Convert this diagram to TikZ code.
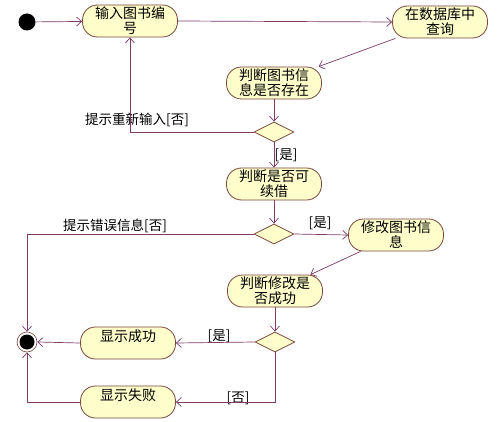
\documentclass[tikz,border=0pt]{standalone}
\usepackage{fontspec}
\setmainfont{Noto Sans CJK SC}
\usetikzlibrary{arrows.meta,shapes.geometric}
\definecolor{actfill}{RGB}{255,255,204}
\definecolor{actdraw}{RGB}{120,70,60}
\definecolor{flow}{RGB}{125,60,105}
\tikzset{
  act/.style={draw=actdraw,fill=actfill,line width=0.8pt,rectangle,rounded corners=15pt,
    minimum width=95pt,minimum height=32pt,inner sep=1pt,align=center,
    font=\fontsize{14}{15}\selectfont},
  dec/.style={draw=actdraw,fill=actfill,line width=0.8pt,diamond,aspect=2,
    minimum width=40pt,minimum height=20pt,inner sep=0pt},
  arr/.style={draw=flow,line width=0.7pt,-{Straight Barb[length=5pt,width=9pt]}},
  lbl/.style={font=\fontsize{13.5}{15}\selectfont,inner sep=0pt},
}
\begin{document}
\begin{tikzpicture}[x=1pt,y=-1pt]
\useasboundingbox (0,0) rectangle (500,422);
\fill[white] (0,0) rectangle (500,422);
\node[circle,fill=black,minimum size=17pt,inner sep=0pt] (start) at (27,22) {};
\node[act] (n1) at (130,21) {输入图书编\\号};
\node[act] (n2) at (440,22) {在数据库中\\查询};
\node[act] (n3) at (274,83) {判断图书信\\息是否存在};
\node[dec] (d1) at (274,132) {};
\node[act] (n4) at (274,184) {判断是否可\\续借};
\node[dec] (d2) at (274,234) {};
\node[act] (n5) at (396,235) {修改图书信\\息};
\node[act] (n6) at (275,291) {判断修改是\\否成功};
\node[dec] (d3) at (275,342) {};
\node[act] (n7) at (128,343) {显示成功\\\mbox{}};
\node[act] (n8) at (128,402) {显示失败\\\mbox{}};
\node[circle,draw=actdraw,line width=0.6pt,fill=white,minimum size=20pt,inner sep=0pt] (end) at (27,342) {};
\node[circle,fill=black,minimum size=15pt,inner sep=0pt] (endin) at (end) {};

\node[lbl] (l1) at (137,120) {提示重新输入[否]};
\node[lbl] (l2) at (286,155) {[是]};
\node[lbl] (l3) at (115,226) {提示错误信息[否]};
\node[lbl] (l4) at (320,223) {[是]};
\node[lbl] (l5) at (219,336) {[是]};
\node[lbl] (l6) at (238,398) {[否]};

\draw[arr] (start) -- (n1);
\draw[arr] (n1.east) -- (n2.west);
\draw[arr] (n2) -- (n3);
\draw[arr] (n3) -- (d1);
\draw[arr] (d1.west) -| (n1.south);
\draw[arr] (d1) -- (n4);
\draw[arr] (n4) -- (d2);
\draw[arr] (d2.east) -- (n5.west);
\draw[arr] (d2.west) -| (end.north);
\draw[arr] (n5) -- (n6);
\draw[arr] (n6) -- (d3);
\draw[arr] (d3.west) -- (n7.east);
\draw[arr] (n7.west) -- (end.east);
\draw[arr] (d3.south) |- (n8.east);
\draw[arr] (n8.west) -| (end.south);
\end{tikzpicture}
\end{document}
